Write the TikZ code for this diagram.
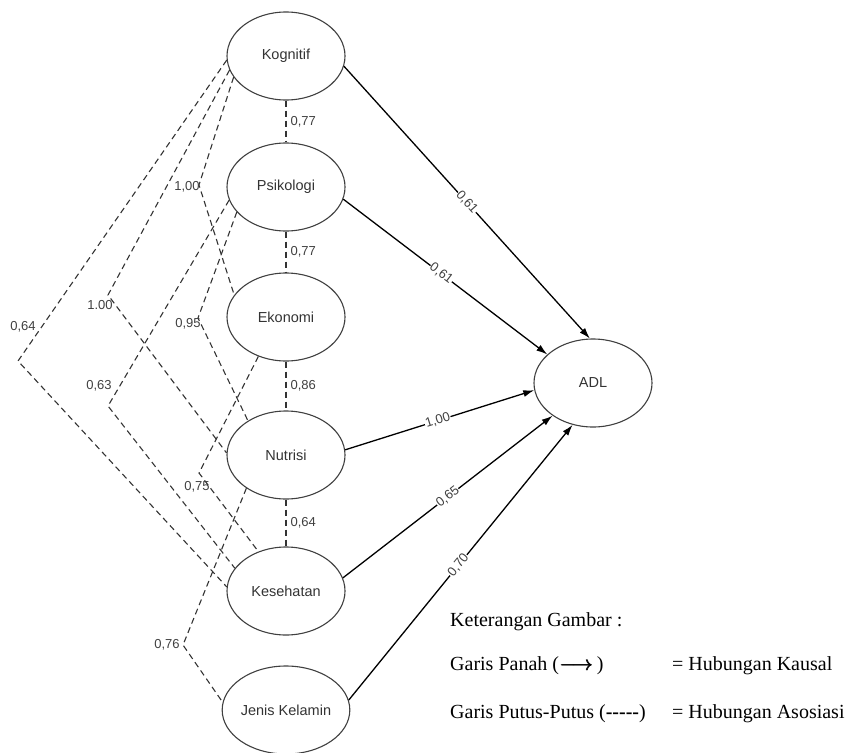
\documentclass[tikz,border=0pt]{standalone}
\usepackage{fontspec}
\setmainfont{Liberation Serif}
\setsansfont{Liberation Sans}
\usetikzlibrary{shapes.geometric,arrows.meta}

% heavy long arrow for the legend
\newcommand{\heavyarrow}{\rlap{$\longrightarrow$}\kern0.5pt\rlap{$\longrightarrow$}\kern0.5pt$\longrightarrow$}

\begin{document}
\begin{tikzpicture}[x=1pt,y=-1pt,
  latent/.style={ellipse,draw=black!75,line width=1.1pt,minimum width=118pt,
    minimum height=88pt,inner sep=0pt,
    font=\sffamily\fontsize{14.5}{16}\selectfont,text=black!80},
  causal/.style={line width=1.3pt,-{Latex[length=11pt,width=7pt]}},
  assoc/.style={dash pattern=on 6pt off 4pt,line width=1.1pt,draw=black!80},
  coef/.style={font=\sffamily\fontsize{13}{15}\selectfont,text=black!75,inner sep=1pt},
  pathcoef/.style={coef,sloped,fill=white,inner sep=0.6pt},
  legendtext/.style={font=\fontsize{20}{24}\selectfont,anchor=west,inner sep=0pt}
]
\useasboundingbox (0,0) rectangle (851,752);

% latent variables
\node[latent] (K)   at (286,56)  {Kognitif};
\node[latent] (P)   at (286,187) {Psikologi};
\node[latent] (E)   at (286,317) {Ekonomi};
\node[latent] (N)   at (286,455) {Nutrisi};
\node[latent] (Ks)  at (286,591) {Kesehatan};
\node[latent] (J)   at (286,710) {Jenis Kelamin};
\node[latent] (ADL) at (593,383) {ADL};

% causal paths
\draw[causal] (K.-10)  -- node[pathcoef,pos=.5]  {0,61} (ADL.94);
\draw[causal] (P.-12)  -- node[pathcoef,pos=.48] {0,61} (ADL.148);
\draw[causal] (N.5)    -- node[pathcoef,pos=.49] {1,00} (ADL.187);
\draw[causal] (Ks.13)  -- node[pathcoef,pos=.5]  {0,65} (ADL.219);
\draw[causal] (J.9)    -- node[pathcoef,pos=.49] {0,70} (ADL.244);

% associations between neighbours
\draw[assoc] (K)  -- node[coef,right,xshift=3pt] {0,77} (P);
\draw[assoc] (P)  -- node[coef,right,xshift=3pt] {0,77} (E);
\draw[assoc] (E)  -- node[coef,right,xshift=3pt] {0,86} (N);
\draw[assoc] (N)  -- node[coef,right,xshift=3pt] {0,64} (Ks);

% bend points of the longer associations
\coordinate (c1) at (199,185);
\coordinate (c2) at (108,295);
\coordinate (c3) at (18,361);
\coordinate (c4) at (198,318);
\coordinate (c5) at (108,406);
\coordinate (c6) at (199,473);
\coordinate (c7) at (183,645);

\draw[assoc] (K.202) -- (c1) -- (E.157);
\draw[assoc] (K.194) -- (c2) -- (N.178);
\draw[assoc] (K.184) -- (c3) -- (Ks.176);
\draw[assoc] (P.207) -- (c4) -- (N.138);
\draw[assoc] (P.193) -- (c5) -- (Ks.156);
\draw[assoc] (E.235) -- (c6) -- (Ks.125);
\draw[assoc] (N.220) -- (c7) -- (J.173);

\node[coef] (l1) at (187,187) {1,00};
\node[coef] (l2) at (100,305) {1.00};
\node[coef] (l3) at (23,327)  {0,64};
\node[coef] (l4) at (188,324) {0,95};
\node[coef] (l5) at (99,386)  {0,63};
\node[coef] (l6) at (197,487) {0,75};
\node[coef] (l7) at (167,645) {0,76};

% legend
\node[legendtext] (kg)  at (450,622) {Keterangan Gambar :};
\node[legendtext] (gp)  at (450,666) {Garis Panah (\heavyarrow\,)};
\node[legendtext] (gpp) at (450,714) {Garis Putus-Putus (\textbf{-{}-{}-{}-{}-})};
\node[legendtext] (hk)  at (672,666) {= Hubungan Kausal};
\node[legendtext] (ha)  at (672,714) {= Hubungan Asosiasi};
\end{tikzpicture}
\end{document}
